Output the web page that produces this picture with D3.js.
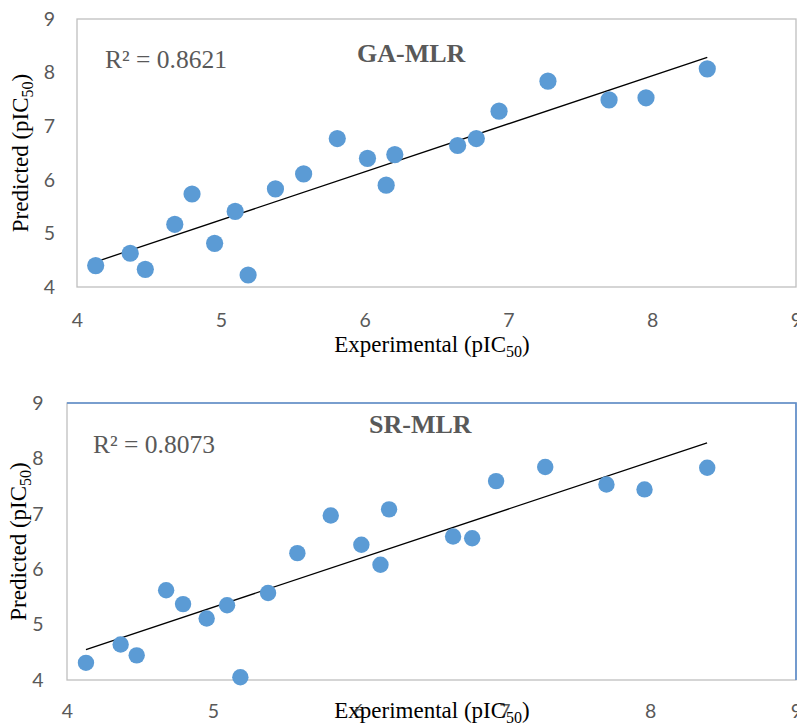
<!DOCTYPE html>
<html>
<head>
<meta charset="utf-8">
<script src="https://cdn.jsdelivr.net/npm/d3@7"></script>
<style>
  html, body { margin: 0; padding: 0; background: #fff; }
  svg { display: block; }
</style>
</head>
<body>
<svg id="chart" width="797" height="724"></svg>
<script>
// ---------- data ----------
const ticks = [4, 5, 6, 7, 8, 9];

const gaExp  = [4.13, 4.37, 4.475, 4.68, 4.80, 4.957, 5.10, 5.19, 5.38, 5.576, 5.81, 6.02, 6.15, 6.21, 6.647, 6.777, 6.935, 7.275, 7.70, 7.957, 8.383];
const gaPred = [4.40, 4.63, 4.33, 5.17, 5.735, 4.815, 5.41, 4.224, 5.83, 6.11, 6.77, 6.40, 5.90, 6.47, 6.64, 6.77, 7.28, 7.84, 7.49, 7.53, 8.07];
const gaTrendX = [4.13, 8.383];
const gaTrendY = [4.47, 8.285];
const gaR2 = "R² = 0.8621";
const gaTitle = "GA-MLR";

const srExp  = [4.13, 4.368, 4.478, 4.68, 4.796, 4.958, 5.098, 5.189, 5.379, 5.58, 5.809, 6.019, 6.15, 6.209, 6.648, 6.779, 6.943, 7.28, 7.70, 7.961, 8.391];
const srPred = [4.31, 4.64, 4.445, 5.62, 5.37, 5.11, 5.35, 4.05, 5.57, 6.29, 6.97, 6.44, 6.08, 7.08, 6.59, 6.56, 7.59, 7.845, 7.53, 7.44, 7.83];
const srTrendX = [4.13, 8.39];
const srTrendY = [4.55, 8.28];
const srR2 = "R² = 0.8073";
const srTitle = "SR-MLR";

const xTitle = "Experimental (pIC";
const yTitle = "Predicted (pIC";
const sub = "50";

// ---------- drawing ----------
const svg = d3.select("#chart");
svg.append("rect").attr("width", 797).attr("height", 724).attr("fill", "#fff");

const serif = "'Liberation Serif', 'Times New Roman', serif";
const sans = "Lato, 'Open Sans', sans-serif";
const gray = "#595959";

function panel(cfg) {
  const x = d3.scaleLinear().domain([4, 9]).range([cfg.left, cfg.right]);
  const y = d3.scaleLinear().domain([4, 9]).range([cfg.bottom, cfg.top]);
  const g = svg.append("g");

  // plot box
  g.append("rect")
    .attr("x", cfg.left).attr("y", cfg.top)
    .attr("width", cfg.right - cfg.left).attr("height", cfg.bottom - cfg.top)
    .attr("fill", "none").attr("stroke", "#bfbfbf").attr("stroke-width", 1.3);
  if (cfg.blueFrame) {
    g.append("path")
      .attr("d", `M${cfg.left},${cfg.top}H${cfg.right}V${cfg.bottom}`)
      .attr("fill", "none").attr("stroke", "#5b8ccc").attr("stroke-width", 1.6);
  }

  // axes
  const xa = g.append("g").attr("transform", `translate(0,${cfg.bottom})`)
    .call(d3.axisBottom(x).tickValues(ticks).tickSize(0).tickFormat(d3.format("d")));
  xa.select(".domain").remove();
  xa.selectAll("text").attr("y", cfg.xTickOff).attr("dy", "0.35em")
    .attr("font-family", sans).attr("font-size", 19.5).attr("fill", gray);

  const ya = g.append("g").attr("transform", `translate(${cfg.left},0)`)
    .call(d3.axisLeft(y).tickValues(ticks).tickSize(0).tickPadding(cfg.yTickPad).tickFormat(d3.format("d")));
  ya.select(".domain").remove();
  ya.selectAll("text").attr("font-family", sans).attr("font-size", 19.5).attr("fill", gray);

  // trendline
  const line = d3.line().x(d => x(d[0])).y(d => y(d[1]));
  g.append("path").datum(cfg.tx.map((v, i) => [v, cfg.ty[i]]))
    .attr("d", line).attr("fill", "none").attr("stroke", "#000").attr("stroke-width", 1.3);

  // points
  g.selectAll("circle.pt").data(cfg.xs.map((v, i) => [v, cfg.ys[i]]))
    .join("circle").attr("class", "pt")
    .attr("cx", d => x(d[0])).attr("cy", d => y(d[1]))
    .attr("r", cfg.r).attr("fill", "#5b9bd5");

  // annotations
  g.append("text").attr("x", cfg.r2x).attr("y", cfg.r2y)
    .attr("font-family", serif).attr("font-size", 25.5).attr("fill", gray)
    .text(cfg.r2);
  g.append("text").attr("x", cfg.tx0).attr("y", cfg.ty0)
    .attr("font-family", serif).attr("font-size", 26).attr("font-weight", "bold").attr("fill", gray)
    .text(cfg.title);

  // x title
  const xt = g.append("text").attr("x", cfg.xtx).attr("y", cfg.xty)
    .attr("text-anchor", "middle").attr("font-family", serif).attr("font-size", 23).attr("fill", "#000");
  xt.append("tspan").text(xTitle);
  xt.append("tspan").attr("font-size", 16).attr("dy", 5).text(sub);
  xt.append("tspan").attr("dy", -5).text(")");

  // y title
  const yt = g.append("text")
    .attr("transform", `translate(${cfg.ytx},${(cfg.top + cfg.bottom) / 2}) rotate(-90)`)
    .attr("text-anchor", "middle").attr("font-family", serif).attr("font-size", 23).attr("fill", "#000");
  yt.append("tspan").text(yTitle);
  yt.append("tspan").attr("font-size", 16).attr("dy", 5).text(sub);
  yt.append("tspan").attr("dy", -5).text(")");
}

panel({
  left: 77, right: 796, top: 19, bottom: 287,
  xs: gaExp, ys: gaPred, tx: gaTrendX, ty: gaTrendY, r: 8.6,
  r2: gaR2, r2x: 105, r2y: 68, title: gaTitle, tx0: 357, ty0: 62,
  xTickOff: 33, yTickPad: 22, xtx: 432, xty: 352, ytx: 28, blueFrame: false
});

panel({
  left: 67, right: 796, top: 403, bottom: 680,
  xs: srExp, ys: srPred, tx: srTrendX, ty: srTrendY, r: 8.2,
  r2: srR2, r2x: 93, r2y: 453, title: srTitle, tx0: 369, ty0: 433,
  xTickOff: 31.5, yTickPad: 23.5, xtx: 432, xty: 718, ytx: 26, blueFrame: true
});
</script>
</body>
</html>
